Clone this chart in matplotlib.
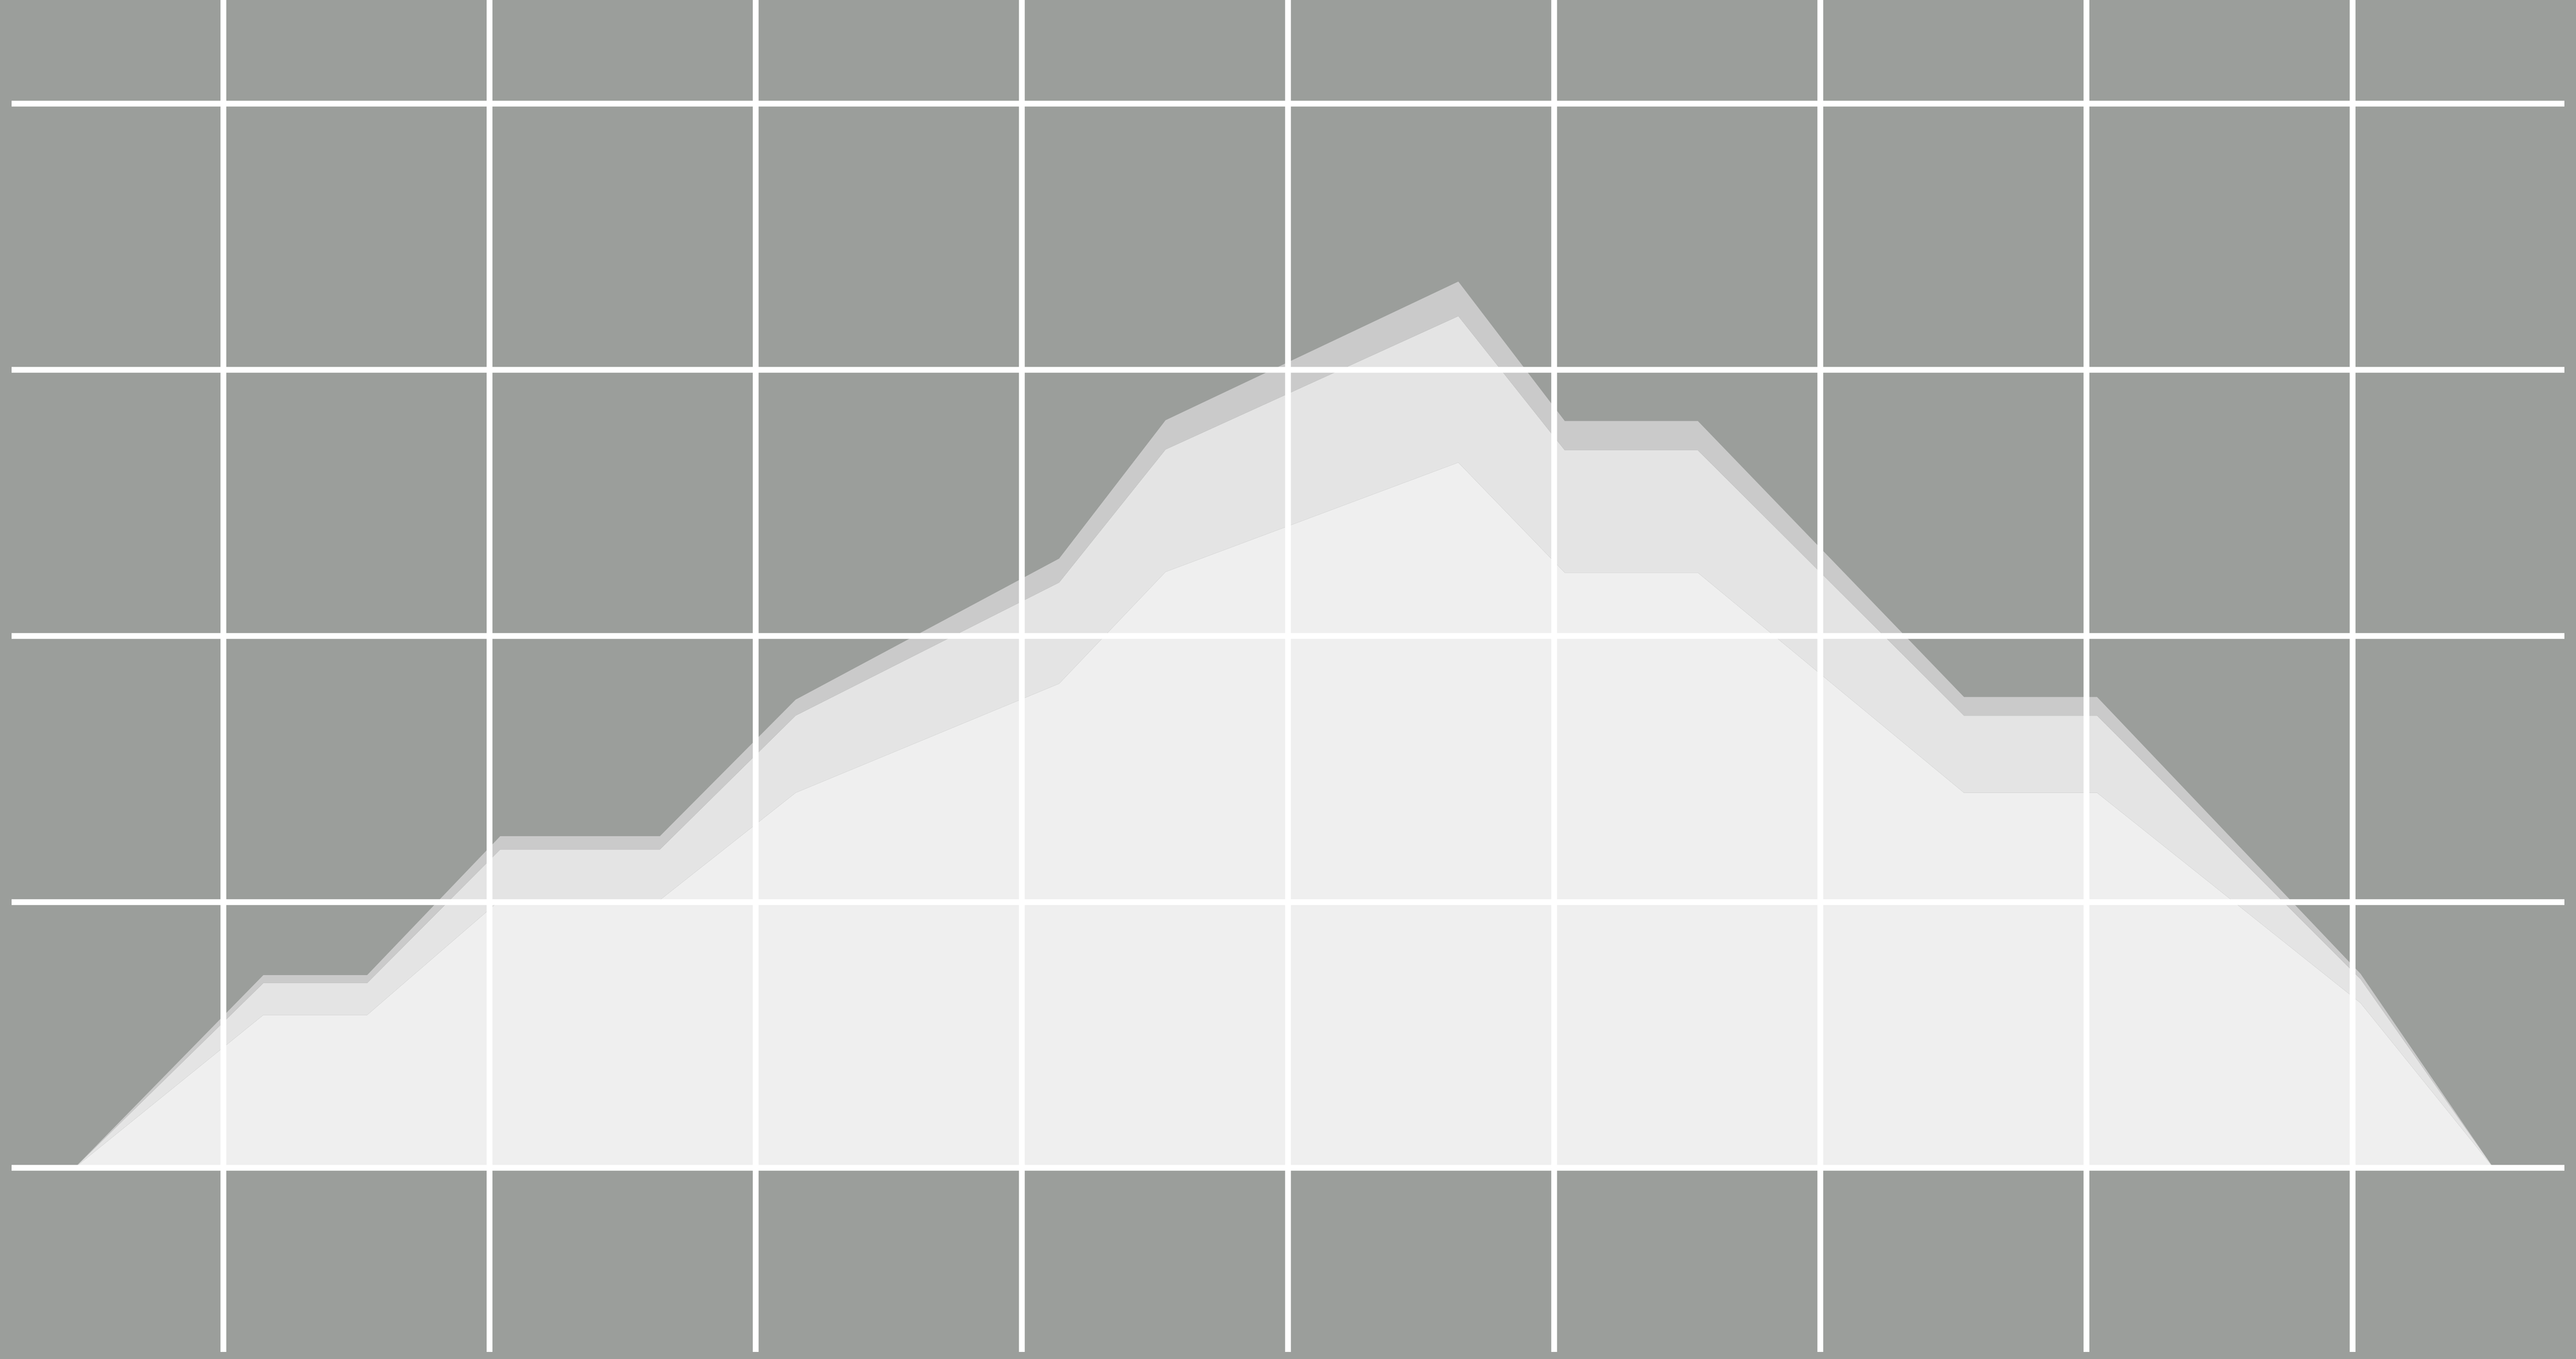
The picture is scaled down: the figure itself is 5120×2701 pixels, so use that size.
import matplotlib
matplotlib.use("Agg")
import matplotlib.pyplot as plt

# x positions of the vertices (grid lines sit on whole numbers)
x = [0.44, 1.15, 1.54, 2.04, 2.64, 3.15, 4.14, 4.54, 5.64, 6.04, 6.54, 7.54, 8.04, 9.03, 9.53]

# stacked layers, bottom to top
base_layer = [0, 0.575, 0.575, 1.007, 1.007, 1.41, 1.82, 2.24, 2.651, 2.237, 2.237, 1.41, 1.41, 0.62, 0]
middle_layer = [0, 0.12, 0.12, 0.19, 0.19, 0.29, 0.38, 0.46, 0.55, 0.46, 0.46, 0.29, 0.29, 0.09, 0]
top_layer = [0, 0.03, 0.03, 0.05, 0.05, 0.06, 0.09, 0.11, 0.13, 0.11, 0.11, 0.07, 0.07, 0.02, 0]

x_ticks = list(range(1, 10))
y_ticks = list(range(0, 5))

layer_colors = ["#efefef", "#e4e4e4", "#cacaca"]
background = "#9b9e9b"

fig = plt.figure(figsize=(51.2, 27.01), dpi=100, facecolor=background)
ax = fig.add_axes([0.0045, 0.0052, 0.991, 0.9948])
ax.set_facecolor(background)

ax.stackplot(x, base_layer, middle_layer, top_layer, colors=layer_colors, linewidth=0)

ax.set_xlim(0.204, 9.796)
ax.set_ylim(-0.691, 4.389)
ax.set_xticks(x_ticks)
ax.set_yticks(y_ticks)
ax.tick_params(length=0, labelbottom=False, labelleft=False)
ax.grid(True, color="white", linewidth=8.3)
ax.set_axisbelow(False)
for spine in ax.spines.values():
    spine.set_visible(False)

fig.savefig("out.png", dpi=100, facecolor=background)
plt.close(fig)
